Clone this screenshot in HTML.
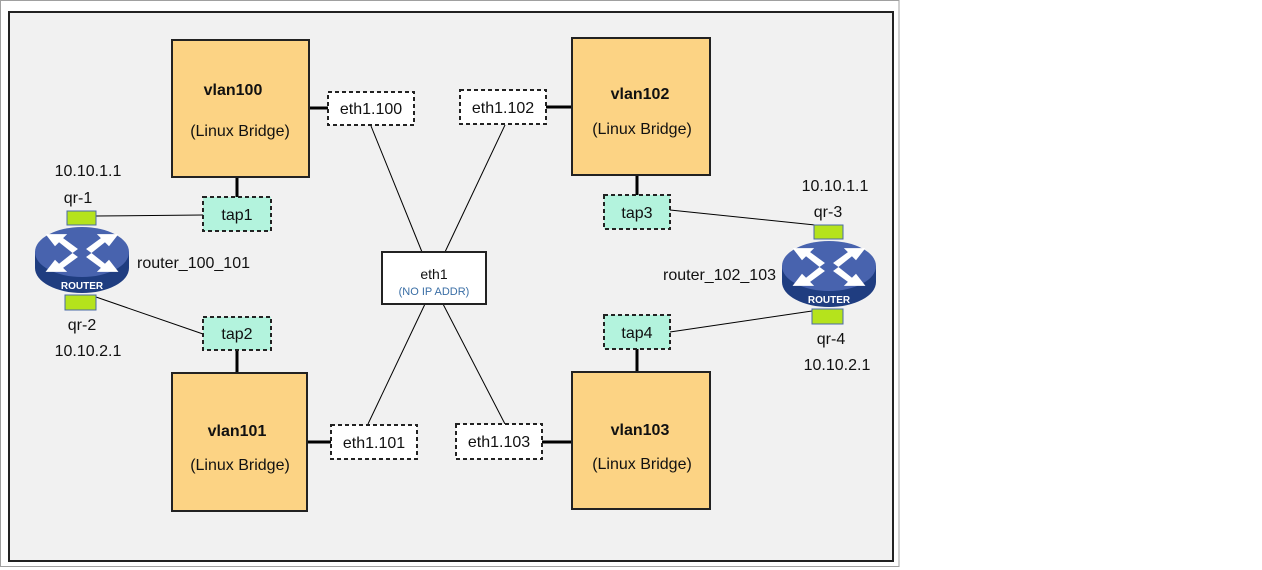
<!DOCTYPE html>
<html><head><meta charset="utf-8"><style>
html,body{margin:0;padding:0;background:#fff;}
svg{display:block;font-family:"Liberation Sans",sans-serif;}
</style></head><body>
<svg width="1262" height="570" viewBox="0 0 1262 570" xmlns="http://www.w3.org/2000/svg">
<rect x="0" y="0" width="1262" height="570" fill="#fff"/>
<rect x="0.5" y="0.5" width="898.5" height="566" fill="#fff" stroke="#a0a0a0" stroke-width="1"/>
<rect x="9" y="12" width="884" height="549" fill="#f1f1f1" stroke="#222" stroke-width="2"/>

<g stroke="#000" stroke-width="1">
<line x1="371" y1="126" x2="422" y2="252"/>
<line x1="505" y1="125" x2="445" y2="252"/>
<line x1="368" y1="424" x2="425" y2="304"/>
<line x1="505" y1="424" x2="443" y2="304"/>
<line x1="96" y1="216" x2="203" y2="215"/>
<line x1="96" y1="297" x2="203" y2="334"/>
<line x1="670" y1="210" x2="815" y2="225"/>
<line x1="670" y1="332" x2="812" y2="311"/>
</g>
<g stroke="#000" stroke-width="3">
<line x1="309" y1="108" x2="328" y2="108"/>
<line x1="546" y1="107" x2="572" y2="107"/>
<line x1="307" y1="442" x2="331" y2="442"/>
<line x1="542" y1="442" x2="572" y2="442"/>
<line x1="237" y1="177" x2="237" y2="197"/>
<line x1="237" y1="350" x2="237" y2="372"/>
<line x1="637" y1="175" x2="637" y2="195"/>
<line x1="637" y1="349" x2="637" y2="371"/>
</g>

<g fill="#fcd384" stroke="#222" stroke-width="2">
<rect x="172" y="40" width="137" height="137"/>
<rect x="572" y="38" width="138" height="137"/>
<rect x="172" y="373" width="135" height="138"/>
<rect x="572" y="372" width="138" height="137"/>
</g>
<g font-size="16" text-anchor="middle" fill="#111">
<text x="233" y="95" font-weight="bold">vlan100</text>
<text x="240" y="136">(Linux Bridge)</text>
<text x="640" y="99" font-weight="bold">vlan102</text>
<text x="642" y="134">(Linux Bridge)</text>
<text x="237" y="436" font-weight="bold">vlan101</text>
<text x="240" y="470">(Linux Bridge)</text>
<text x="640" y="435" font-weight="bold">vlan103</text>
<text x="642" y="469">(Linux Bridge)</text>
</g>

<g fill="#fff" stroke="#222" stroke-width="2" stroke-dasharray="4,3">
<rect x="328" y="92" width="86" height="33"/>
<rect x="460" y="90" width="86" height="34"/>
<rect x="331" y="425" width="86" height="34"/>
<rect x="456" y="424" width="86" height="35"/>
</g>
<g font-size="16" text-anchor="middle" fill="#111">
<text x="371" y="114">eth1.100</text>
<text x="503" y="113">eth1.102</text>
<text x="374" y="448">eth1.101</text>
<text x="499" y="447">eth1.103</text>
</g>

<g fill="#b3f3dd" stroke="#222" stroke-width="2" stroke-dasharray="4,3">
<rect x="203" y="197" width="68" height="34"/>
<rect x="203" y="317" width="68" height="33"/>
<rect x="604" y="195" width="66" height="34"/>
<rect x="604" y="315" width="66" height="34"/>
</g>
<g font-size="16" text-anchor="middle" fill="#111">
<text x="237" y="220">tap1</text>
<text x="237" y="339">tap2</text>
<text x="637" y="218">tap3</text>
<text x="637" y="338">tap4</text>
</g>

<rect x="382" y="252" width="104" height="52" fill="#fff" stroke="#222" stroke-width="2"/>
<text x="434" y="279" font-size="14" text-anchor="middle" fill="#111">eth1</text>
<text x="434" y="295" font-size="11" text-anchor="middle" fill="#3a6ea5">(NO IP ADDR)</text>

<defs>
<g id="rt">
<rect x="32" y="-14" width="29" height="14" fill="#b5e31c" stroke="#4a6aa8" stroke-width="1"/>
<path d="M0,27 L0,43 A47,25 0 0 0 94,43 L94,27 Z" fill="#1f3d80"/>
<ellipse cx="47" cy="27" rx="47" ry="25" fill="#4863ae"/>
<g fill="#fff" transform="translate(47,28) scale(1.35) translate(-47,-28)">
<path d="M20,14 L36,14 L33,17 L44,25 L40,28 L30,20 L27,23 Z"/>
<path d="M74,14 L58,14 L61,17 L50,25 L54,28 L64,20 L67,23 Z"/>
<path d="M20,42 L36,42 L33,39 L44,31 L40,28 L30,36 L27,33 Z"/>
<path d="M74,42 L58,42 L61,39 L50,31 L54,28 L64,36 L67,33 Z"/>
</g>
<text x="47" y="64" font-size="10" font-weight="bold" fill="#fff" text-anchor="middle">ROUTER</text>
<rect x="30" y="70" width="31" height="15" fill="#b5e31c" stroke="#4a6aa8" stroke-width="1"/>
</g>
</defs>
<use href="#rt" x="35" y="225"/>
<use href="#rt" x="782" y="239"/>

<g font-size="16" fill="#111">
<text x="88" y="176" text-anchor="middle">10.10.1.1</text>
<text x="78" y="203" text-anchor="middle">qr-1</text>
<text x="137" y="268">router_100_101</text>
<text x="82" y="330" text-anchor="middle">qr-2</text>
<text x="88" y="356" text-anchor="middle">10.10.2.1</text>
<text x="835" y="191" text-anchor="middle">10.10.1.1</text>
<text x="828" y="217" text-anchor="middle">qr-3</text>
<text x="663" y="280">router_102_103</text>
<text x="831" y="344" text-anchor="middle">qr-4</text>
<text x="837" y="370" text-anchor="middle">10.10.2.1</text>
</g>
</svg>
</body></html>
